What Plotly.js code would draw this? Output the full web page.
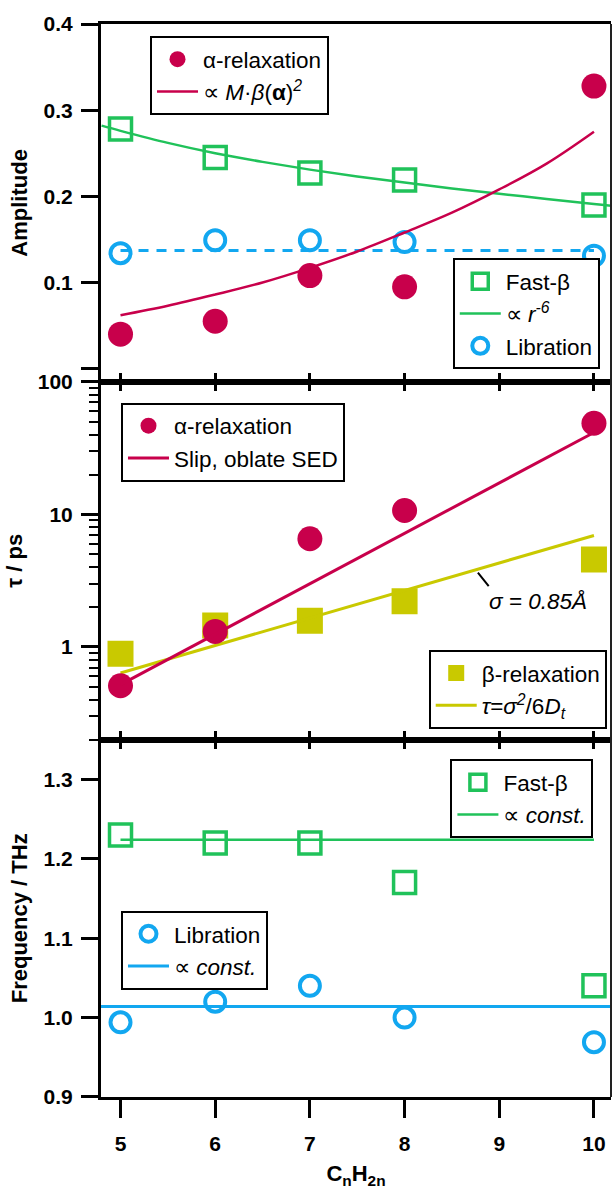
<!DOCTYPE html>
<html>
<head>
<meta charset="utf-8">
<script src="https://cdn.plot.ly/plotly-3.0.1.min.js"></script>
<style>html,body{margin:0;padding:0;background:#fff;}#chart{width:613px;height:1189px;}</style>
</head>
<body>
<div id="chart"></div>
<script>
// ---- data ----
const nCarbon = [5, 6, 7, 8, 10];
const xTicks = [5, 6, 7, 8, 9, 10];
const xTickText = ['5', '6', '7', '8', '9', '10'];

// Amplitude panel
const ampAlpha = [0.040, 0.055, 0.108, 0.095, 0.328];
const ampFastBeta = [0.278, 0.245, 0.227, 0.219, 0.190];
const ampLibration = [0.134, 0.149, 0.149, 0.147, 0.131];
const ampAlphaFitX = [5, 5.5, 6, 6.5, 7, 7.5, 8, 8.5, 9, 9.5, 10];
const ampAlphaFitY = [0.062, 0.073, 0.086, 0.100, 0.117, 0.136, 0.158, 0.181, 0.208, 0.238, 0.275];
const ampFastBetaFitX = [4.8, 5, 5.5, 6, 6.5, 7, 7.5, 8, 8.5, 9, 9.5, 10, 10.2];
const ampFastBetaFitY = [0.282, 0.276, 0.262, 0.250, 0.240, 0.231, 0.223, 0.216, 0.209, 0.203, 0.197, 0.191, 0.189];
const ampLibrationMeanX = [5, 10];
const ampLibrationMeanY = [0.137, 0.137];
const ampTicks = [0, 0.1, 0.2, 0.3, 0.4];
const ampTickText = ['', '0.1', '0.2', '0.3', '0.4'];

// Relaxation time panel (log)
const tauAlpha = [0.51, 1.31, 6.55, 10.7, 48.7];
const tauBeta = [0.89, 1.45, 1.58, 2.21, 4.57];
const tauAlphaFitX = [5, 10];
const tauAlphaFitY = [0.52, 41.5];
const tauBetaFitX = [5, 10];
const tauBetaFitY = [0.636, 6.94];
const tauTicks = [1, 10, 100];
const tauTickText = ['1', '10', '100'];
const tauMinorTicks = [0.2, 0.3, 0.4, 0.5, 0.6, 0.7, 0.8, 0.9, 2, 3, 4, 5, 6, 7, 8, 9, 20, 30, 40, 50, 60, 70, 80, 90];

// Frequency panel
const freqFastBeta = [1.23, 1.22, 1.22, 1.17, 1.04];
const freqLibration = [0.994, 1.02, 1.04, 1.00, 0.969];
const freqFastBetaConstX = [5, 10];
const freqFastBetaConstY = [1.224, 1.224];
const freqLibrationConstX = [4.79, 10.2];
const freqLibrationConstY = [1.014, 1.014];
const freqTicks = [0.9, 1.0, 1.1, 1.2, 1.3];
const freqTickText = ['0.9', '1.0', '1.1', '1.2', '1.3'];

// ---- styles ----
const CRIMSON = '#C8004B';
const GREEN = '#20C25A';
const BLUE = '#12A7F0';
const OLIVE = '#C9C900';
const FONT = 'Liberation Sans, Arial, Helvetica, sans-serif';

const traces = [
  // top panel
  {x: nCarbon, y: ampFastBeta, xaxis: 'x', yaxis: 'y', mode: 'markers', name: 'Fast-β', legend: 'legend2', legendrank: 1,
   marker: {symbol: 'square-open', size: 22, color: GREEN, line: {width: 3.5, color: GREEN}}},
  {x: ampFastBetaFitX, y: ampFastBetaFitY, xaxis: 'x', yaxis: 'y', mode: 'lines', name: '∝ <i>r</i><sup><i>-6</i></sup>', legend: 'legend2', legendrank: 2,
   line: {color: GREEN, width: 2.5, shape: 'spline', smoothing: 1}},
  {x: ampLibrationMeanX, y: ampLibrationMeanY, xaxis: 'x', yaxis: 'y', mode: 'lines', showlegend: false,
   line: {color: BLUE, width: 3, dash: '10px,8px'}},
  {x: nCarbon, y: ampLibration, xaxis: 'x', yaxis: 'y', mode: 'markers', name: 'Libration', legend: 'legend2', legendrank: 3,
   marker: {symbol: 'circle-open', size: 20, color: BLUE, line: {width: 4, color: BLUE}}},
  {x: nCarbon, y: ampAlpha, xaxis: 'x', yaxis: 'y', mode: 'markers', name: 'α-relaxation', legend: 'legend', legendrank: 1,
   marker: {symbol: 'circle', size: 25, color: CRIMSON}},
  {x: ampAlphaFitX, y: ampAlphaFitY, xaxis: 'x', yaxis: 'y', mode: 'lines', name: '∝ <i>M</i>·<i>β</i>(<b>α</b>)<sup><i>2</i></sup>', legend: 'legend', legendrank: 2,
   line: {color: CRIMSON, width: 2.5, shape: 'spline', smoothing: 1}},

  // middle panel
  {x: nCarbon, y: tauBeta, xaxis: 'x2', yaxis: 'y2', mode: 'markers', name: 'β-relaxation', legend: 'legend4', legendrank: 1,
   marker: {symbol: 'square', size: 26, color: OLIVE}},
  {x: tauBetaFitX, y: tauBetaFitY, xaxis: 'x2', yaxis: 'y2', mode: 'lines', name: '<i>τ</i>=<i>σ</i><sup><i>2</i></sup>/6<i>D</i><sub><i>t</i></sub>', legend: 'legend4', legendrank: 2,
   line: {color: OLIVE, width: 3}},
  {x: nCarbon, y: tauAlpha, xaxis: 'x2', yaxis: 'y2', mode: 'markers', name: 'α-relaxation', legend: 'legend3', legendrank: 1,
   marker: {symbol: 'circle', size: 25, color: CRIMSON}},
  {x: tauAlphaFitX, y: tauAlphaFitY, xaxis: 'x2', yaxis: 'y2', mode: 'lines', name: 'Slip, oblate SED', legend: 'legend3', legendrank: 2,
   line: {color: CRIMSON, width: 3}},

  // bottom panel
  {x: nCarbon, y: freqFastBeta, xaxis: 'x3', yaxis: 'y3', mode: 'markers', name: 'Fast-β', legend: 'legend5', legendrank: 1,
   marker: {symbol: 'square-open', size: 22, color: GREEN, line: {width: 3.5, color: GREEN}}},
  {x: freqFastBetaConstX, y: freqFastBetaConstY, xaxis: 'x4', yaxis: 'y3', mode: 'lines', name: '∝ <i>const.</i>', legend: 'legend5', legendrank: 2,
   line: {color: GREEN, width: 2.5}},
  {x: nCarbon, y: freqLibration, xaxis: 'x3', yaxis: 'y3', mode: 'markers', name: 'Libration', legend: 'legend6', legendrank: 1,
   marker: {symbol: 'circle-open', size: 20, color: BLUE, line: {width: 4, color: BLUE}}},
  {x: freqLibrationConstX, y: freqLibrationConstY, xaxis: 'x3', yaxis: 'y3', mode: 'lines', name: '∝ <i>const.</i>', legend: 'legend6', legendrank: 2,
   line: {color: BLUE, width: 3}}
];

const xRange = [4.794, 10.18];
const tickFont = {family: FONT, size: 21, color: '#000', weight: 700};
const titleFont = {family: FONT, size: 22, color: '#000', weight: 700};

function xAxisBase(extra) {
  return Object.assign({
    range: xRange, tickmode: 'array', tickvals: xTicks, ticktext: xTickText,
    showline: true, linecolor: '#000', linewidth: 3, showgrid: false, zeroline: false,
    tickcolor: '#000', tickwidth: 3, showticklabels: false, fixedrange: true
  }, extra);
}
function yAxisBase(extra) {
  return Object.assign({
    showline: true, linecolor: '#000', linewidth: 3, showgrid: false, zeroline: false,
    ticks: 'outside', ticklen: 17, tickwidth: 3, tickcolor: '#000', tickfont: tickFont,
    tickmode: 'array', ticklabelstandoff: 4, fixedrange: true
  }, extra);
}

function legendBox(x, y, xa, ya) {
  return {x: x, y: y, xanchor: xa, yanchor: ya, xref: 'paper', yref: 'paper',
    bgcolor: '#fff', bordercolor: '#000', borderwidth: 2, itemwidth: 41,
    font: {family: FONT, size: 22.5, color: '#000'}, traceorder: 'normal'};
}

const D1 = 0.33302, D2 = 0.66651;

const layout = {
  width: 613, height: 1189,
  margin: {l: 101, r: 2, t: 24, b: 91.5},
  paper_bgcolor: '#fff', plot_bgcolor: '#fff',
  font: {family: FONT, color: '#000'},
  xaxis: xAxisBase({anchor: 'y', domain: [0, 1], ticks: 'inside', ticklen: 9, mirror: true}),
  xaxis2: xAxisBase({anchor: 'y2', domain: [0, 1], ticks: 'inside', ticklen: 9, mirror: 'ticks'}),
  xaxis3: xAxisBase({anchor: 'y3', domain: [0, 1], ticks: 'outside', ticklen: 18, showticklabels: true,
    tickfont: tickFont, ticklabelstandoff: 8,
    title: {text: '<b>C<sub>n</sub>H<sub>2n</sub></b>', font: titleFont, standoff: 12}}),
  xaxis4: xAxisBase({anchor: 'y3', overlaying: 'x3', side: 'top', ticks: 'inside', ticklen: 9}),
  yaxis: yAxisBase({domain: [D2, 1], range: [-0.0153, 0.4], tickvals: ampTicks, ticktext: ampTickText,
    title: {text: 'Amplitude', font: titleFont, standoff: 10}}),
  yaxis2: yAxisBase({domain: [D1, D2], type: 'log', range: [Math.log10(0.2), 2], tickvals: tauTicks, ticktext: tauTickText,
    minor: {tickmode: 'array', tickvals: tauMinorTicks, ticks: 'outside', ticklen: 9, tickwidth: 2, tickcolor: '#000'},
    title: {text: 'τ / ps', font: titleFont, standoff: 10}}),
  yaxis3: yAxisBase({domain: [0, D1], range: [0.9, 1.35], tickvals: freqTicks, ticktext: freqTickText,
    title: {text: 'Frequency / THz', font: titleFont, standoff: 10}}),
  legend: legendBox(0.0961, 0.9888, 'left', 'top'),
  legend2: legendBox(0.978, 0.6783, 'right', 'bottom'),
  legend3: legendBox(0.0392, 0.6472, 'left', 'top'),
  legend4: legendBox(0.9916, 0.343, 'right', 'bottom'),
  legend5: legendBox(0.9655, 0.315, 'right', 'top'),
  legend6: legendBox(0.0392, 0.1737, 'left', 'top'),
  shapes: [
    {type: 'line', xref: 'paper', yref: 'paper', x0: 1, x1: 1, y0: 0, y1: 1, line: {color: '#222', width: 2}}
  ],
  annotations: [
    {xref: 'paper', yref: 'paper', x: 0.857, y: 0.4619, text: '<i>σ = 0.85Å</i>', showarrow: false,
     font: {family: FONT, size: 22.5, color: '#000'}, xanchor: 'center', yanchor: 'middle'},
    {xref: 'paper', yref: 'paper', x: 0.739, y: 0.4886, text: '', showarrow: true, arrowhead: 0,
     arrowwidth: 2, arrowcolor: '#000', ax: 12, ay: 15, standoff: 0, startstandoff: 0}
  ]
};

Plotly.newPlot('chart', traces, layout, {displayModeBar: false, staticPlot: true});
</script>
</body>
</html>
